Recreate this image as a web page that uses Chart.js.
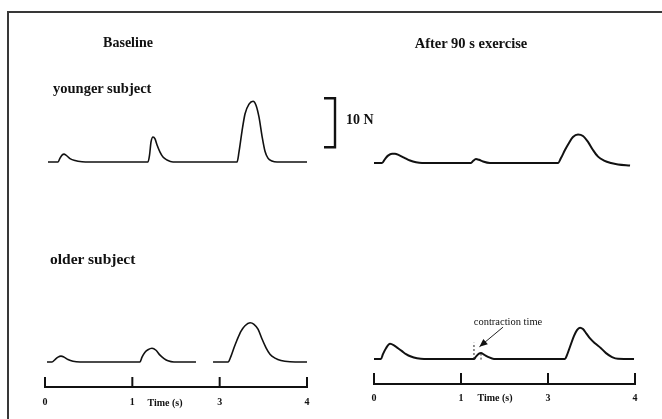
<!DOCTYPE html>
<html><head><meta charset="utf-8">
<script src="https://cdn.jsdelivr.net/npm/chart.js@4.4.1/dist/chart.umd.min.js"></script>
<style>
html,body{margin:0;padding:0;background:#fff;}
body{width:662px;height:419px;position:relative;overflow:hidden;font-family:"Liberation Serif","Times New Roman",serif;color:#111;}
#frame{position:absolute;left:7px;top:11px;width:700px;height:500px;border-top:2px solid #383838;border-left:2px solid #383838;}
canvas{position:absolute;top:0;}
#cl{left:0;}
#cr{left:331px;}
.t{position:absolute;font-weight:bold;white-space:nowrap;line-height:1;}
.c{transform:translate(-50%,-50%);}
.l{transform:translateY(-50%);}
</style></head><body>
<div id="frame"></div>
<canvas id="cl" width="400" height="419"></canvas>
<canvas id="cr" width="331" height="419"></canvas>
<div class="t c" style="left:128px;top:43px;font-size:14px;">Baseline</div>
<div class="t c" style="left:471px;top:43px;font-size:14.5px;">After 90 s exercise</div>
<div class="t l" style="left:53px;top:88px;font-size:14.5px;">younger subject</div>
<div class="t l" style="left:50px;top:259px;font-size:15.5px;">older subject</div>
<div class="t l" style="left:346px;top:120px;font-size:14px;">10 N</div>
<div class="t c" style="left:508px;top:322px;font-size:10.5px;font-weight:normal;">contraction time</div>
<div class="t c" style="left:165px;top:403px;font-size:10px;">Time (s)</div>
<div class="t c" style="left:495px;top:398px;font-size:10px;">Time (s)</div>
<script>
// Axis: tick positions (equally spaced on the broken time axis) and their labels
const tickPos = [0, 1, 2, 3];
const xTickLabels = ['0', '1', '3', '4'];

// Baseline, younger subject: time (axis units) and force (N)
const youngBaseT = [0.034,0.149,0.172,0.195,0.218,0.240,0.286,0.344,0.424,0.515,
  1.179,1.197,1.214,1.237,1.260,1.282,1.317,1.351,1.397,1.466,
  2.199,2.221,2.256,2.290,2.336,2.382,2.416,2.450,2.485,2.519,2.553,2.599,2.657,3.0];
const youngBaseF = [0,0,0.8,1.4,1.6,1.4,0.7,0.3,0.06,0,
  0,1.4,4.1,5.1,4.7,3.5,2.0,1.0,0.4,0,
  0,2.0,6.3,9.8,11.8,12.4,11.6,9.2,5.3,2.2,0.8,0.2,0,0];

// Baseline, older subject
const oldBaseT = [0.023,0.080,0.115,0.149,0.183,0.218,0.263,0.321,0.401,
  1.088,1.111,1.145,1.179,1.225,1.271,1.317,1.363,1.408,1.477,
  1.729,1.800,1.924,
  2.096,2.130,2.164,2.199,2.245,2.290,2.348,2.393,2.439,2.485,2.531,2.576,2.634,2.702,2.805,3.0];
const oldBaseF = [0,0,0.5,1.0,1.2,1.0,0.5,0.14,0,
  0,1.0,2.0,2.5,2.8,2.4,1.4,0.7,0.24,0,
  0,null,0,
  0,1.2,2.9,4.5,6.3,7.4,8.0,7.7,6.7,4.7,2.9,1.6,0.8,0.3,0.06,0];

// After 90 s exercise, younger subject
const youngExT = [0,0.092,0.126,0.161,0.207,0.241,0.287,0.345,0.414,0.483,0.552,
  1.115,1.138,1.172,1.207,1.253,1.333,
  2.115,2.149,2.195,2.241,2.287,2.345,2.402,2.460,2.517,2.575,2.644,2.724,2.805,2.943];
const youngExF = [0,0,0.8,1.5,1.9,1.9,1.6,1.1,0.5,0.14,0,
  0,0.4,0.8,0.65,0.3,0,
  0,1.0,2.65,4.1,5.3,5.8,5.5,4.3,2.65,1.3,0.5,0,-0.3,-0.5];

// After 90 s exercise, older subject
const oldExT = [0,0.080,0.103,0.138,0.184,0.230,0.276,0.322,0.368,0.425,0.494,0.575,
  1.149,1.172,1.207,1.230,1.264,1.310,1.379,
  2.195,2.218,2.253,2.299,2.333,2.368,2.402,2.437,2.483,2.540,2.609,2.667,2.736,2.805,2.989];
const oldExF = [0,0,1.0,2.2,3.1,2.8,2.2,1.6,1.0,0.5,0.16,0,
  0,0.5,1.1,1.2,0.9,0.45,0,
  0,0.8,2.5,4.7,5.9,6.4,6.1,5.3,4.2,3.2,2.2,1.2,0.4,0.04,0];

// Scale bar (N) and contraction-time annotation (axis units / N)
const scaleBarN = 10;
const scaleBarFrom = 3;
const contractionStart = 1.149, contractionPeak = 1.230, contractionPeakF = 1.1;
const contractionMarkF = 3.3;
const arrowFrom = [1.483, 6.5], arrowTo = [1.212, 2.5];

const PX_PER_N = 4.9;
const zip = (t, f) => t.map((x, i) => ({x: x, y: f[i]}));

function yRange(basePx, top, bottom) {
  return {min: -(bottom - basePx) / PX_PER_N, max: (basePx - top) / PX_PER_N};
}

const upTicks = {
  id: 'upTicks',
  afterDraw(chart, args, opts) {
    const s = chart.scales.x, ctx = chart.ctx, b = chart.chartArea.bottom;
    ctx.save();
    ctx.strokeStyle = '#111';
    ctx.lineWidth = 2;
    tickPos.forEach(v => {
      const x = s.getPixelForValue(v);
      ctx.beginPath(); ctx.moveTo(x, b + 1); ctx.lineTo(x, b - opts.len); ctx.stroke();
    });
    ctx.restore();
  }
};

const scaleBar = {
  id: 'scaleBar',
  afterDraw(chart) {
    const y = chart.scales.yYoung, ctx = chart.ctx;
    const yt = y.getPixelForValue(scaleBarFrom + scaleBarN), yb = y.getPixelForValue(scaleBarFrom);
    const x = chart.chartArea.right + 28;
    ctx.save();
    ctx.strokeStyle = '#111'; ctx.lineWidth = 2.4;
    ctx.beginPath(); ctx.moveTo(x - 11, yt); ctx.lineTo(x, yt); ctx.lineTo(x, yb); ctx.lineTo(x - 11, yb); ctx.stroke();
    ctx.restore();
  }
};

const contraction = {
  id: 'contraction',
  afterDraw(chart) {
    const xs = chart.scales.x, ys = chart.scales.yOld, ctx = chart.ctx;
    ctx.save();
    ctx.strokeStyle = '#222'; ctx.lineWidth = 1;
    ctx.setLineDash([2, 2]);
    let x = xs.getPixelForValue(contractionStart);
    ctx.beginPath(); ctx.moveTo(x, ys.getPixelForValue(0)); ctx.lineTo(x, ys.getPixelForValue(contractionMarkF)); ctx.stroke();
    x = xs.getPixelForValue(contractionPeak);
    ctx.beginPath(); ctx.moveTo(x, ys.getPixelForValue(contractionPeakF)); ctx.lineTo(x, ys.getPixelForValue(-0.2)); ctx.stroke();
    ctx.setLineDash([]);
    const x0 = xs.getPixelForValue(arrowFrom[0]), y0 = ys.getPixelForValue(arrowFrom[1]);
    const x1 = xs.getPixelForValue(arrowTo[0]), y1 = ys.getPixelForValue(arrowTo[1]);
    ctx.beginPath(); ctx.moveTo(x0, y0); ctx.lineTo(x1, y1); ctx.stroke();
    const a = Math.atan2(y1 - y0, x1 - x0), L = 8, W = 3.5;
    ctx.fillStyle = '#111';
    ctx.beginPath();
    ctx.moveTo(x1, y1);
    ctx.lineTo(x1 - L * Math.cos(a) + W * Math.sin(a), y1 - L * Math.sin(a) - W * Math.cos(a));
    ctx.lineTo(x1 - L * Math.cos(a) - W * Math.sin(a), y1 - L * Math.sin(a) + W * Math.cos(a));
    ctx.closePath(); ctx.fill();
    ctx.restore();
  }
};

function panel(id, cfg) {
  const lineStyle = {borderColor: '#111', borderWidth: cfg.lw, pointRadius: 0,
    cubicInterpolationMode: 'monotone', spanGaps: false, fill: false};
  return new Chart(document.getElementById(id), {
    type: 'line',
    data: {datasets: [
      Object.assign({label: cfg.labels[0], data: zip(cfg.young[0], cfg.young[1]), yAxisID: 'yYoung'}, lineStyle),
      Object.assign({label: cfg.labels[1], data: zip(cfg.old[0], cfg.old[1]), yAxisID: 'yOld'}, lineStyle)
    ]},
    options: {
      responsive: false, animation: false, events: [],
      layout: {padding: {left: cfg.left, right: cfg.right, top: cfg.top, bottom: cfg.padBottom}},
      plugins: {legend: {display: false}, tooltip: {enabled: false}, upTicks: {len: cfg.tickLen}},
      scales: {
        x: {
          type: 'linear', position: 'bottom', min: 0, max: 3,
          afterBuildTicks: s => { s.ticks = tickPos.map(v => ({value: v})); },
          ticks: {
            callback: (v, i) => xTickLabels[i], autoSkip: false, maxRotation: 0,
            padding: cfg.tickPad, color: '#111',
            font: {family: 'Liberation Serif', weight: 'bold', size: 10}
          },
          grid: {display: false, drawTicks: false},
          border: {display: true, color: '#111', width: 2}
        },
        yYoung: Object.assign({type: 'linear', display: false}, yRange(cfg.youngBase, cfg.top, cfg.bottom)),
        yOld: Object.assign({type: 'linear', display: false}, yRange(cfg.oldBase, cfg.top, cfg.bottom))
      }
    },
    plugins: cfg.plugins
  });
}

panel('cl', {
  labels: ['younger subject, baseline', 'older subject, baseline'],
  young: [youngBaseT, youngBaseF], old: [oldBaseT, oldBaseF],
  lw: 1.6, left: 45, right: 93, top: 90, bottom: 387, padBottom: 2, tickPad: 9, tickLen: 10,
  youngBase: 162, oldBase: 362,
  plugins: [upTicks, scaleBar]
});

panel('cr', {
  labels: ['younger subject, after 90 s exercise', 'older subject, after 90 s exercise'],
  young: [youngExT, youngExF], old: [oldExT, oldExF],
  lw: 2, left: 43, right: 27, top: 90, bottom: 384, padBottom: 7, tickPad: 8, tickLen: 11,
  youngBase: 163, oldBase: 359,
  plugins: [upTicks, contraction]
});
</script>
</body></html>
